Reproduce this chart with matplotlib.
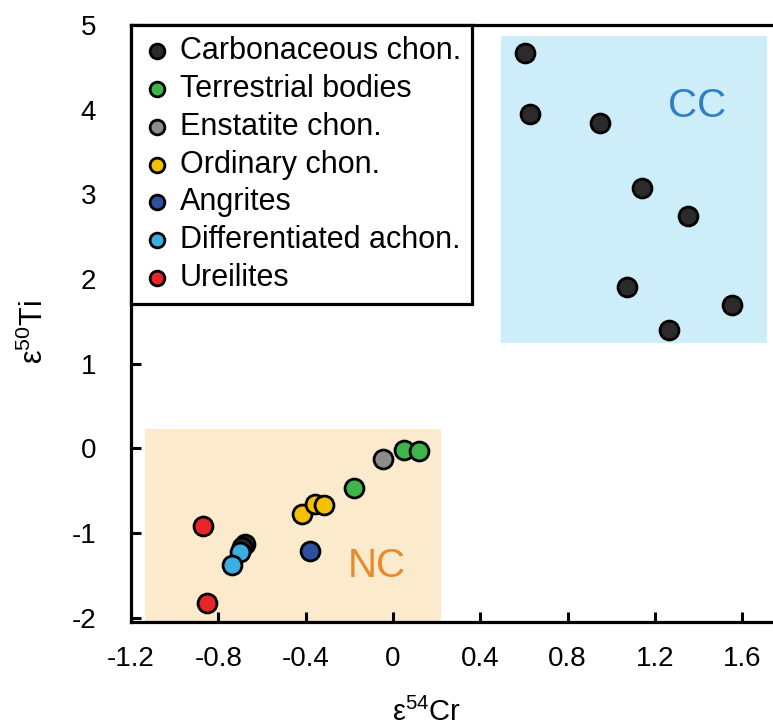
import matplotlib
matplotlib.use("Agg")
import matplotlib.pyplot as plt
from matplotlib.patches import Rectangle

plt.rcParams["font.family"] = ["Liberation Sans", "DejaVu Sans"]
plt.rcParams["axes.unicode_minus"] = False

# values (eps54Cr, eps50Ti)
carb_x = [0.605, 0.628, 0.948, 1.139, 1.353, 1.071, 1.555, 1.266, -0.68, -0.69]
carb_y = [4.67, 3.95, 3.84, 3.07, 2.74, 1.91, 1.69, 1.40, -1.13, -1.16]
terr_x = [-0.177, 0.052, 0.121]
terr_y = [-0.47, -0.02, -0.03]
enst_x = [-0.044]
enst_y = [-0.13]
ord_x = [-0.415, -0.357, -0.316]
ord_y = [-0.77, -0.66, -0.67]
angr_x = [-0.38]
angr_y = [-1.21]
diff_x = [-0.701, -0.736]
diff_y = [-1.22, -1.38]
ureil_x = [-0.869, -0.853]
ureil_y = [-0.92, -1.83]

groups = [
    ("Carbonaceous chon.", carb_x, carb_y, "#2b2b2b"),
    ("Terrestrial bodies", terr_x, terr_y, "#3db54a"),
    ("Enstatite chon.", enst_x, enst_y, "#8c8c8c"),
    ("Ordinary chon.", ord_x, ord_y, "#f5c000"),
    ("Angrites", angr_x, angr_y, "#2f4fa0"),
    ("Differentiated achon.", diff_x, diff_y, "#3daee3"),
    ("Ureilites", ureil_x, ureil_y, "#e8262a"),
]

x_ticks = [-1.2, -0.8, -0.4, 0, 0.4, 0.8, 1.2, 1.6]
x_tick_labels = ["-1.2", "-0.8", "-0.4", "0", "0.4", "0.8", "1.2", "1.6"]
y_ticks = [-2, -1, 0, 1, 2, 3, 4, 5]
y_tick_labels = ["-2", "-1", "0", "1", "2", "3", "4", "5"]

fig = plt.figure(figsize=(7.73, 7.27), dpi=100)
ax = fig.add_axes([131 / 773, 105 / 727, 642 / 773, 597 / 727])

# field boxes
ax.add_patch(Rectangle((0.495, 1.25), 1.713 - 0.495, 4.87 - 1.25,
                       facecolor="#cdeef9", edgecolor="none", zorder=0))
ax.add_patch(Rectangle((-1.136, -2.3), 0.22 + 1.136, 0.224 + 2.3,
                       facecolor="#fbeacb", edgecolor="none", zorder=0))
ax.text(1.393, 4.04, "CC", color="#2f80c4", fontsize=29, ha="center", va="center")
ax.text(-0.073, -1.39, "NC", color="#e8892b", fontsize=29, ha="center", va="center")

for name, xs, ys, col in groups:
    ax.scatter(xs, ys, s=185, c=col, edgecolors="black", linewidths=2.0,
               label=name, zorder=3)

ax.set_xlim(-1.2, 1.741)
ax.set_ylim(-2.05, 5)
ax.set_xticks(x_ticks)
ax.set_xticklabels(x_tick_labels)
ax.set_yticks(y_ticks)
ax.set_yticklabels(y_tick_labels)
ax.tick_params(direction="in", length=7, width=2.2, labelsize=20)
ax.tick_params(axis="x", pad=17)
ax.tick_params(axis="y", pad=25)

for side in ["left", "bottom", "top"]:
    ax.spines[side].set_linewidth(2.3)
ax.spines["right"].set_visible(False)

ax.set_xlabel("ε$\\mathregular{^{54}}$Cr", fontsize=21, va="center")
ax.xaxis.set_label_coords(0.461, -0.152)
ax.set_ylabel("ε$\\mathregular{^{50}}$Ti", fontsize=22, va="center")
ax.yaxis.set_label_coords(-0.15, 0.486)

leg = ax.legend(loc="upper left", bbox_to_anchor=(0, 1), borderaxespad=0,
                fontsize=22, markerscale=0.78, handletextpad=0.25,
                labelspacing=0.26, borderpad=0.35, handlelength=1.0,
                fancybox=False, edgecolor="black", framealpha=1)
leg.get_frame().set_linewidth(2.3)

fig.savefig("out.png", dpi=100)
